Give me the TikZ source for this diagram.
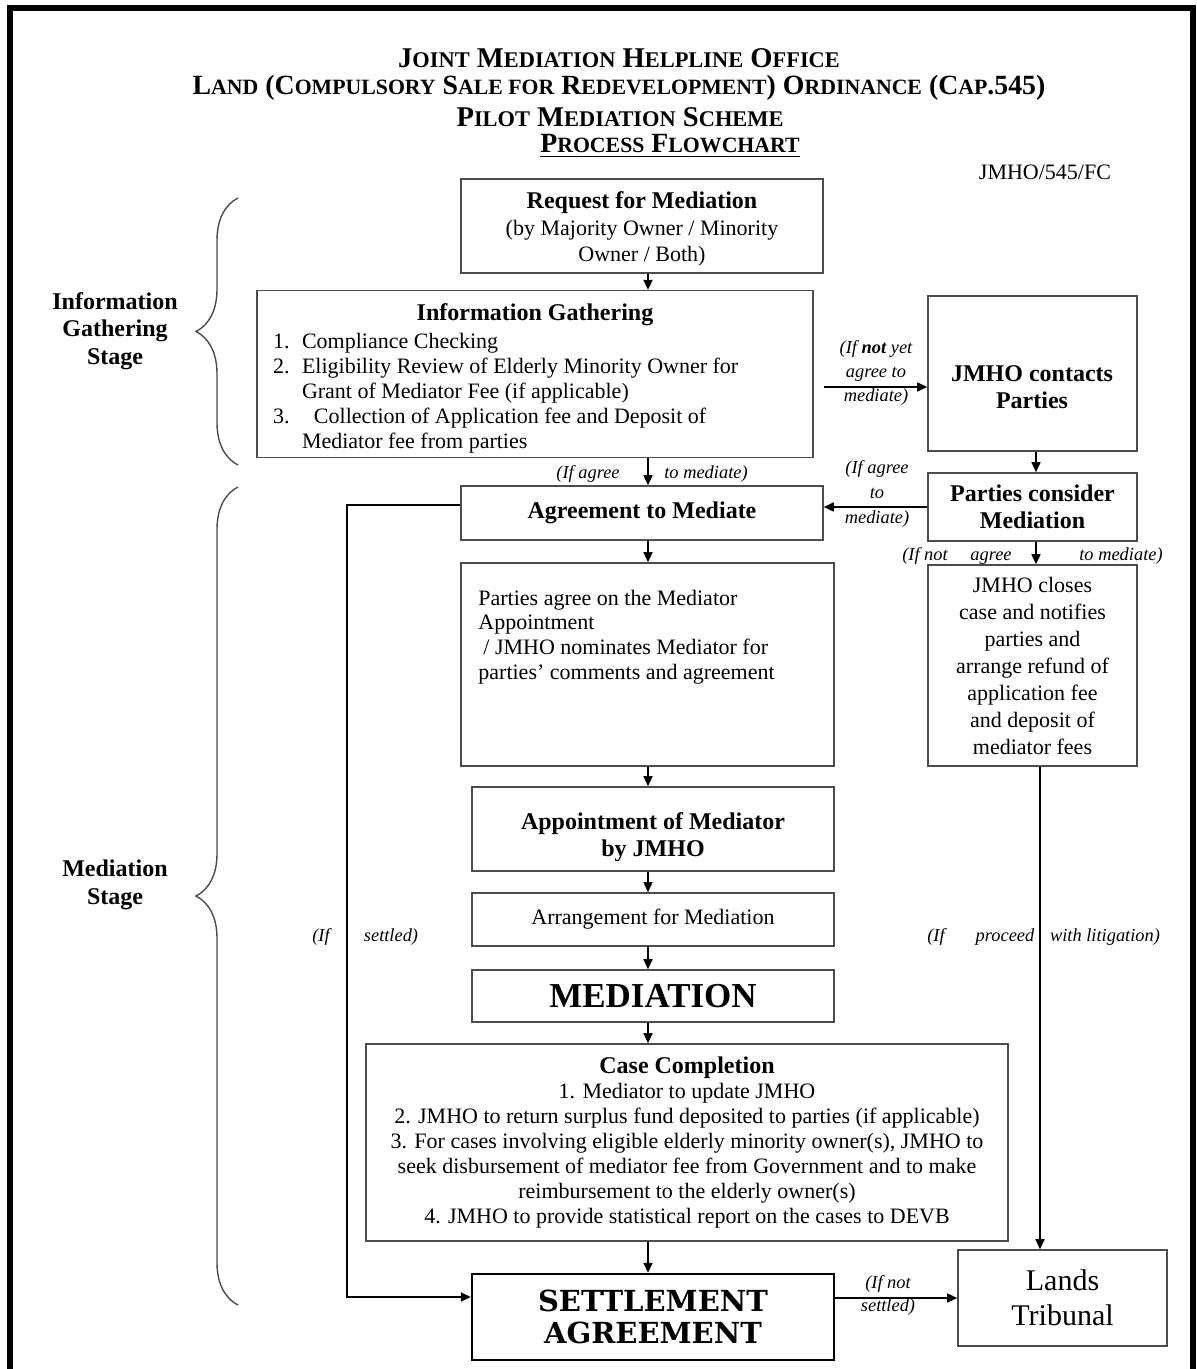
\documentclass[tikz,border=0pt]{standalone}
\usepackage{fontspec}
\setmainfont{Liberation Serif}
\newfontfamily\heavyfont{DejaVu Serif}
\usetikzlibrary{arrows.meta,decorations.pathreplacing}

\newcommand\smcsz{11.2}
\newcommand\smc[1]{{\fontsize{\smcsz}{12}\selectfont #1}} % small caps by hand
\newcommand\hd[1]{{\bfseries\fontsize{12}{14}\selectfont #1}} % box heading

\tikzset{
  titletext/.style={font=\fontsize{14.3}{15}\selectfont\bfseries, inner sep=0pt},
  titlenarrow/.style={font=\fontsize{13.9}{15}\selectfont\bfseries\def\smcsz{10.9}, inner sep=0pt},
  body/.style={font=\fontsize{11}{12.5}\selectfont},
  box/.style={draw=black!70, line width=0.8pt, inner sep=2pt, align=center, body},
  headbox/.style={box, font=\fontsize{12}{13.5}\selectfont\bfseries},
  arr/.style={-{Triangle[length=5pt,width=4.5pt]}, line width=0.8pt},
  cond/.style={font=\fontsize{9.2}{12}\selectfont\itshape, inner sep=0pt, align=center},
  condline/.style={cond, anchor=base},
  stage/.style={font=\fontsize{12}{13.75}\selectfont\bfseries, align=center, inner sep=0pt},
  stagebrace/.style={draw=black!70, line width=0.7pt, decorate, decoration={brace, amplitude=21pt}},
}

\begin{document}
\begin{tikzpicture}[x=0.5pt,y=-0.5pt]
\useasboundingbox (0,0) rectangle (1196,1369);
\draw[line width=3pt] (10,1369) -- (10,8) -- (1193,8) -- (1193,1369); % page frame

% Heading
\node[titletext] (office) at (619,58) {J\smc{OINT} M\smc{EDIATION} H\smc{ELPLINE} O\smc{FFICE}};
\node[titlenarrow] (ordinance) at (619,88) {L\smc{AND} (C\smc{OMPULSORY} S\smc{ALE FOR} R\smc{EDEVELOPMENT}) O\smc{RDINANCE} (C\smc{AP}.545)};
\node[titletext] (scheme) at (620,117) {P\smc{ILOT} M\smc{EDIATION} S\smc{CHEME}};
\node[titlenarrow] (chart) at (670,146) {\underline{P\smc{ROCESS} F\smc{LOWCHART}}};
\node[body] (docref) at (1045,172) {JMHO/545/FC};

% Stages on the left
\draw[stagebrace] (238,465) -- (238,198); % information brace
\node[stage] (infostage) at (115,331) {Information\\ Gathering\\ Stage};
\draw[stagebrace] (238,1305) -- (238,487); % mediation brace
\node[stage] (medstage) at (115,885) {Mediation\\ Stage};

% Boxes
\coordinate (spine) at (648,0); % main column
\coordinate (rspine) at (1036,0); % right column
\coordinate (litig) at (1040,0); % litigation line
\node[box, minimum width=181pt, minimum height=47pt, font=\fontsize{11}{13.2}\selectfont] (request) at (642,226) {\rule{0pt}{11.5pt}\hd{Request for Mediation}\\ (by Majority Owner / Minority\\ Owner / Both)};
\node[box, minimum width=278pt, minimum height=83pt] (info) at (535,374) {\rule{0pt}{13pt}\hd{Information Gathering}\\[1.5pt]
  \parbox[t]{262pt}{\raggedright
  \makebox[14.5pt][l]{1.}Compliance Checking\\
  \makebox[14.5pt][l]{2.}Eligibility Review of Elderly Minority Owner for\\
  \makebox[14.5pt][l]{}Grant of Mediator Fee (if applicable)\\
  \makebox[14.5pt][l]{3.}\hspace{6pt}Collection of Application fee and Deposit of\\
  \makebox[14.5pt][l]{}Mediator fee from parties}};
\node[box, minimum width=104.5pt, minimum height=77.5pt] (contact) at (1032.5,373.5) {};
\node[inner sep=0pt, align=center, font=\fontsize{12}{13.5}\selectfont\bfseries] (contacttext) at (1032,387) {JMHO contacts\\ Parties};
\node[headbox, minimum width=104.5pt, minimum height=34pt] (consider) at (1032.5,507) {Parties consider\\ Mediation};
\node[headbox, minimum width=181pt, minimum height=27pt] (agree) at (642,513) {Agreement to Mediate};
\node[box, inner ysep=1pt, minimum width=104.5pt, minimum height=100.5pt, font=\fontsize{11}{13.5}\selectfont] (closes) at (1032.5,665.5) {JMHO closes\\ case and notifies\\ parties and\\ arrange refund of\\ application fee\\ and deposit of\\ mediator fees};
\node[box, minimum width=186.5pt, minimum height=101.5pt] (appoint) at (647.5,664.5) {};
\node[body, inner sep=0pt, anchor=west, align=left, font=\fontsize{11}{12.35}\selectfont] (appointtext) at (478,637) {Parties agree on the Mediator\\ Appointment\\ \hspace{2.5pt}/ JMHO nominates Mediator for\\ parties’ comments and agreement};
\node[headbox, minimum width=181pt, minimum height=42pt] (mediator) at (653,829) {\rule{0pt}{17pt}Appointment of Mediator\\ by JMHO};
\node[box, minimum width=181pt, minimum height=26.5pt] (arrange) at (653,919.5) {Arrangement for Mediation};
\node[box, minimum width=181pt, minimum height=26pt, font=\fontsize{17.5}{18}\selectfont\bfseries] (mediation) at (653,996) {MEDIATION};
\node[box, minimum width=321pt, minimum height=98.5pt] (completion) at (687,1142.5) {\hd{Case Completion}\\ 1. Mediator to update JMHO\\ 2. JMHO to return surplus fund deposited to parties (if applicable)\\ 3. For cases involving eligible elderly minority owner(s), JMHO to\\ seek disbursement of mediator fee from Government and to make\\ reimbursement to the elderly owner(s)\\ 4. JMHO to provide statistical report on the cases to DEVB};
\node[box, draw=black, line width=1.2pt, minimum width=181pt, minimum height=43pt, font=\heavyfont\bfseries\fontsize{14.5}{16}\selectfont] (settle) at (653,1317) {SETTLEMENT\\ AGREEMENT};
\node[box, minimum width=104.5pt, minimum height=48pt, font=\fontsize{15}{17.5}\selectfont] (lands) at (1062.5,1298) {Lands\\ Tribunal};

% Connectors
\draw[arr] (request.south -| spine) -- (info.north -| spine);
\coordinate (notyet) at (824,387);
\draw[arr] (notyet) -- (notyet -| contact.west); % not yet agree
\node[cond] (notyetlabel) at (876,373) {(If \textbf{not} yet\\ agree to\\ mediate)};
\draw[arr] (info.south -| spine) -- (agree.north -| spine); % agree
\node[condline] (agreeleft) at (588,478) {(If agree};
\node[condline] (agreeright) at (706,478) {to mediate)};
\draw[arr] (contact.south -| rspine) -- (consider.north -| rspine);
\draw[arr] (consider.west) -- (consider.west -| agree.east); % agree after contact
\node[cond, font=\fontsize{9.2}{12.5}\selectfont\itshape] (agreelabel) at (877,494) {(If agree\\ to\\ mediate)};
\draw[arr] (consider.south -| rspine) -- (closes.north -| rspine); % not agree
\node[condline] (notagreeA) at (925,560) {(If not};
\node[condline] (notagreeB) at (991,560) {agree};
\node[condline] (notagreeC) at (1121,560) {to mediate)};
\draw[arr] (agree.south -| spine) -- (appoint.north -| spine);
\draw[arr] (appoint.south -| spine) -- (mediator.north -| spine);
\draw[arr] (mediator.south -| spine) -- (arrange.north -| spine);
\draw[arr] (arrange.south -| spine) -- (mediation.north -| spine);
\draw[arr] (mediation.south -| spine) -- (completion.north -| spine);
\draw[arr] (completion.south -| spine) -- (settle.north -| spine);
\coordinate (settledin) at (347,1297);
\draw[arr] ([yshift=4pt]agree.west) -| (settledin) -- (settledin -| settle.west); % settled loop
\node[condline] (settledA) at (321,941) {(If};
\node[condline] (settledB) at (391,941) {settled)};
\draw[arr] (closes.south -| litig) -- (lands.north -| litig); % litigation
\node[condline] (litigA) at (936,941) {(If};
\node[condline] (litigB) at (1005,941) {proceed};
\node[condline] (litigC) at (1105,941) {with litigation)};
\draw[arr] (lands.west -| settle.east) -- (lands.west); % not settled
\node[cond, font=\fontsize{9.2}{11.5}\selectfont\itshape] (notsettled) at (888,1295) {(If not\\ settled)};
\end{tikzpicture}
\end{document}
